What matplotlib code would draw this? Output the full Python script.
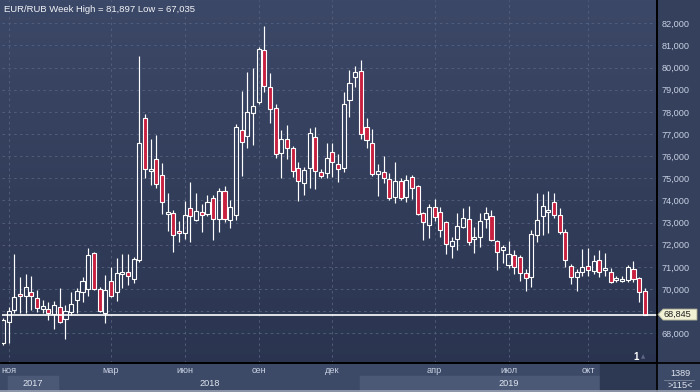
import numpy as np
import matplotlib
matplotlib.use("Agg")
import matplotlib.pyplot as plt
from matplotlib.patches import Rectangle, Polygon
from matplotlib.lines import Line2D
import matplotlib.transforms as mtransforms

plt.rcParams['font.family'] = ['Liberation Sans', 'DejaVu Sans']

# ---------------- data (weekly EUR/RUB candles) ----------------
opens = [67.56, 68.51, 69.05, 69.77, 69.68, 69.86, 69.59, 69.10, 69.10, 68.87,
         69.19, 68.64, 68.96, 69.50, 69.86, 70.00, 71.62, 70.00, 68.91, 70.36,
         69.86, 70.68, 70.77, 70.45, 71.31, 77.72, 75.35, 75.87, 75.15, 73.40,
         73.43, 72.62, 72.53, 73.66, 73.12, 73.48, 73.39, 74.11, 73.16, 74.43,
         73.12, 73.34, 77.18, 76.91, 77.95, 78.45, 80.79, 79.12, 78.17, 76.14,
         76.77, 76.37, 75.46, 74.79, 75.46, 76.86, 75.28, 75.24, 76.19, 75.64,
         75.46, 78.54, 79.57, 79.84, 77.32, 76.59, 75.19, 75.28, 74.97, 74.15,
         74.88, 74.15, 75.06, 74.65, 73.43, 72.89, 73.70, 73.48, 73.04, 71.94,
         72.26, 72.80, 73.16, 72.28, 72.35, 73.16, 73.30, 72.17, 71.76, 71.08,
         71.53, 71.44, 70.72, 70.54, 72.44, 73.30, 73.50, 73.93, 73.34, 72.57,
         71.04, 70.54, 70.77, 71.04, 70.81, 71.31, 70.88, 70.77, 70.41, 70.36,
         70.41, 70.90, 70.50, 69.91]
closes = [68.60, 69.01, 69.64, 69.68, 70.09, 69.68, 69.14, 69.23, 68.91, 69.28,
          68.51, 69.01, 69.32, 69.91, 70.36, 71.53, 70.00, 69.01, 69.95, 69.68,
          70.72, 70.77, 70.59, 71.35, 76.59, 75.42, 75.40, 74.74, 73.93, 73.45,
          72.44, 72.53, 73.34, 73.30, 73.52, 73.34, 73.93, 73.16, 74.43, 73.16,
          73.70, 77.32, 76.64, 77.99, 78.26, 80.84, 79.17, 78.13, 76.10, 76.77,
          76.37, 75.33, 74.88, 75.37, 77.06, 75.33, 75.10, 75.92, 75.73, 75.42,
          78.35, 79.30, 79.80, 77.00, 76.73, 75.19, 75.33, 75.01, 74.11, 74.88,
          74.11, 74.92, 74.56, 73.39, 73.04, 73.70, 73.25, 72.66, 72.03, 72.17,
          72.84, 73.21, 72.12, 72.33, 73.07, 73.43, 72.21, 71.67, 71.90, 71.58,
          70.99, 70.72, 70.50, 72.48, 73.12, 73.75, 73.55, 73.34, 72.57, 71.31,
          70.54, 70.77, 70.99, 70.86, 71.26, 70.77, 70.93, 70.31, 70.50, 70.45,
          70.99, 70.45, 69.86, 68.845]
highs = [68.69, 69.19, 71.58, 70.54, 70.68, 70.59, 69.95, 69.50, 69.41, 69.46,
         70.04, 69.28, 69.86, 70.04, 70.54, 71.85, 71.67, 70.09, 70.63, 70.99,
         71.40, 71.58, 71.58, 71.44, 80.52, 77.90, 76.77, 76.95, 75.69, 74.33,
         73.57, 73.08, 73.97, 74.83, 74.33, 73.84, 74.24, 74.24, 74.56, 74.65,
         74.02, 77.45, 78.94, 79.80, 79.98, 80.93, 81.897, 79.75, 78.35, 77.18,
         77.41, 76.46, 75.73, 75.51, 77.27, 77.32, 75.42, 76.59, 76.59, 76.10,
         78.90, 79.89, 80.07, 80.34, 77.72, 77.23, 75.64, 76.01, 75.24, 75.73,
         75.01, 75.15, 75.15, 74.70, 73.48, 73.84, 74.06, 73.70, 73.07, 72.35,
         73.43, 73.66, 73.75, 72.80, 73.43, 73.70, 73.57, 72.21, 71.99, 72.17,
         71.76, 71.53, 70.90, 72.66, 74.33, 74.29, 74.43, 74.33, 73.66, 72.71,
         71.13, 70.90, 71.81, 71.85, 71.53, 71.76, 71.62, 70.95, 70.59, 70.59,
         71.08, 71.26, 70.54, 70.04]
lows = [67.47, 67.56, 68.91, 68.91, 68.91, 69.05, 68.96, 68.91, 68.60, 68.19,
        68.46, 67.74, 68.82, 68.91, 69.41, 69.68, 69.95, 68.96, 68.46, 69.64,
        69.46, 70.04, 70.18, 70.27, 71.22, 75.01, 74.70, 74.56, 73.39, 72.62,
        71.67, 72.12, 72.26, 72.12, 73.08, 72.57, 73.30, 72.21, 72.57, 73.04,
        72.75, 73.12, 75.10, 76.37, 76.50, 78.35, 78.90, 77.50, 75.92, 75.01,
        75.87, 75.06, 73.97, 74.24, 74.56, 74.52, 75.01, 75.01, 75.06, 74.83,
        75.28, 77.77, 79.12, 76.77, 76.37, 75.10, 74.20, 74.79, 74.02, 73.88,
        74.02, 73.93, 74.06, 73.34, 72.21, 72.30, 73.08, 72.35, 71.58, 71.40,
        71.76, 72.75, 71.99, 71.62, 71.90, 72.75, 72.17, 70.86, 71.17, 70.95,
        70.68, 70.36, 69.91, 70.09, 72.12, 72.44, 72.53, 73.21, 72.48, 70.99,
        70.22, 69.91, 70.59, 70.59, 70.68, 70.54, 70.59, 70.27, 70.31, 70.31,
        70.31, 70.31, 69.41, 68.83]

month_labels = ['ноя', 'мар', 'июн', 'сен', 'дек', 'апр', 'июл', 'окт']
month_index = [1, 19, 32, 45, 58, 76, 89, 103]
year_labels = ['2017', '2018', '2019']
year_center = [5.3, 36.4, 89.1]
year_box = [(0.9, 9.7), None, (62.9, 105.1)]
price_ticks = [68, 69, 70, 71, 72, 73, 74, 75, 76, 77, 78, 79, 80, 81, 82]
title_text = 'EUR/RUB Week High = 81,897 Low = 67,035'
last_price = closes[-1]

# ---------------- figure ----------------
W, H = 700, 392
fig = plt.figure(figsize=(W / 100, H / 100), dpi=100)


def fx(x):
    return x / W


def fy(y):
    return 1 - y / H


# background gradient
bg = fig.add_axes([0, 0, 1, 1], zorder=-10)
top = np.array([0x3c, 0x48, 0x67]) / 255
bot = np.array([0x29, 0x33, 0x4e]) / 255
t = np.linspace(0, 1, 256)[:, None]
grad = (top[None, :] * (1 - t) + bot[None, :] * t)[:, None, :]
bg.imshow(grad, extent=[0, 1, 0, 1], aspect='auto', origin='upper')
bg.set_xlim(0, 1)
bg.set_ylim(0, 1)
bg.axis('off')

# bottom strip
bg.add_patch(Rectangle((0, 0), 1, fy(363.5), color='#3d4a67', zorder=2))
# right panel
bg.add_patch(Rectangle((fx(657), fy(363)), 1 - fx(657), fy(0) - fy(363),
                       color='#34405c', zorder=1))

# main axes
ax_l, ax_r, ax_t, ax_b = 2, 657, 0, 363
ax = fig.add_axes([fx(ax_l), fy(ax_b), fx(ax_r - ax_l), (ax_b - ax_t) / H])
ax.patch.set_alpha(0)

n = len(opens)
sp = 5.68
ax.set_xlim((ax_l - 3) / sp, (ax_r - 3) / sp)
ax.set_ylim(82 - (ax_b - 23.3) / 22.14, 82 + 23.3 / 22.14)

# grid
for p in price_ticks:
    ax.axhline(p, color='#56627f', lw=0.6, ls=(0, (3, 4)), zorder=1)
for m in month_index:
    ax.axvline(m, color='#56627f', lw=0.6, ls=(0, (3, 4)), zorder=1)

# candles
bw = 0.72
red = '#c8203f'
for i in range(n):
    o, c, h, l = opens[i], closes[i], highs[i], lows[i]
    lo_b, hi_b = min(o, c), max(o, c)
    if hi_b - lo_b < 0.06:
        mid = (hi_b + lo_b) / 2
        lo_b, hi_b = mid - 0.03, mid + 0.03
    ax.plot([i, i], [hi_b, h], color='white', lw=0.85, zorder=3,
            solid_capstyle='butt')
    ax.plot([i, i], [l, lo_b], color='white', lw=0.85, zorder=3,
            solid_capstyle='butt')
    up = c >= o
    ax.add_patch(Rectangle((i - bw / 2, lo_b), bw, hi_b - lo_b,
                           facecolor='none' if up else red,
                           edgecolor='white', lw=0.8, zorder=4))

# last price line
ax.axhline(last_price, color='white', lw=1.2, zorder=5)

# axes styling
for s in ['top', 'left']:
    ax.spines[s].set_visible(False)
ax.spines['right'].set_color('black')
ax.spines['bottom'].set_color('black')
ax.spines['right'].set_linewidth(1.2)
ax.spines['bottom'].set_linewidth(1.2)
ax.yaxis.tick_right()
ax.set_yticks(price_ticks)
# the tick nearest to the last-price tag is hidden behind the tag
ax.set_yticklabels(['' if abs(p - last_price) < 0.5 else f'{p:.3f}'.replace('.', ',')
                    for p in price_ticks])
ax.tick_params(axis='y', length=0, pad=3, labelsize=6.6, labelcolor='#c8d1e2')
ax.set_xticks(month_index)
ax.set_xticklabels(month_labels)
ax.tick_params(axis='x', length=0, pad=2.5, labelsize=6.6, labelcolor='#c8d1e2')

# year row
trans = mtransforms.blended_transform_factory(ax.transData, fig.transFigure)
for lab, xc, box in zip(year_labels, year_center, year_box):
    if box is not None:
        a, b = box
        fig.add_artist(Rectangle((a, fy(390.5)), b - a, fy(376) - fy(390.5),
                                 transform=trans, color='#4b5977', zorder=3))
    fig.text(xc, fy(383.5), lab, transform=trans, ha='center',
             va='center', fontsize=6.6, color='#dfe5ef', zorder=4)
# dark scroll box
fig.add_artist(Rectangle((fx(600), fy(390)), fx(656) - fx(600), fy(364.5) - fy(390),
                         transform=fig.transFigure, color='#2d3853', zorder=3))

# separator lines
fig.add_artist(Line2D([fx(657), fx(657)], [0, 1], color='black', lw=1.2,
                      transform=fig.transFigure, zorder=6))
fig.add_artist(Line2D([0, 1], [fy(363), fy(363)], color='black', lw=1.2,
                      transform=fig.transFigure, zorder=6))
fig.add_artist(Line2D([0, 1], [fy(391), fy(391)], color='#9aa3b3', lw=1.2,
                      transform=fig.transFigure, zorder=6))

# bottom right panel
fig.text(fx(680), fy(373.5), '1389', ha='center', va='center', fontsize=6.6,
         color='#dfe5ef')
fig.add_artist(Line2D([fx(664), fx(694)], [fy(380), fy(380)], color='#7d879c', lw=0.6,
                      transform=fig.transFigure))
fig.text(fx(680), fy(386), '>115<', ha='center', va='center', fontsize=6.6,
         color='#dfe5ef')

# title
fig.text(fx(4), fy(9), title_text, ha='left', va='center', fontsize=6.8,
         color='#f2f4f8', zorder=7)

# "1" marker
fig.text(fx(636), fy(357), '1', ha='center', va='center', fontsize=7,
         color='white', fontweight='bold', zorder=7)
fig.text(fx(643), fy(357), '▲', ha='center', va='center', fontsize=4,
         color='#5b6784', family='DejaVu Sans', zorder=7)

# price tag
fig.canvas.draw()
ypix = ax.transData.transform((0, last_price))[1]
yf = ypix / fig.bbox.height
hh = 5.5 / H
tag = Polygon([(fx(658), yf), (fx(663), yf + hh), (fx(697), yf + hh),
               (fx(697), yf - hh), (fx(663), yf - hh)], closed=True,
              transform=fig.transFigure, facecolor='#f1f1d6', edgecolor='#a9a992',
              lw=0.6, zorder=8)
fig.add_artist(tag)
fig.text(fx(663), yf, f'{last_price:.3f}'.replace('.', ','), ha='left', va='center',
         fontsize=6.6, color='#222222', zorder=9)

fig.savefig('out.png', dpi=100)
